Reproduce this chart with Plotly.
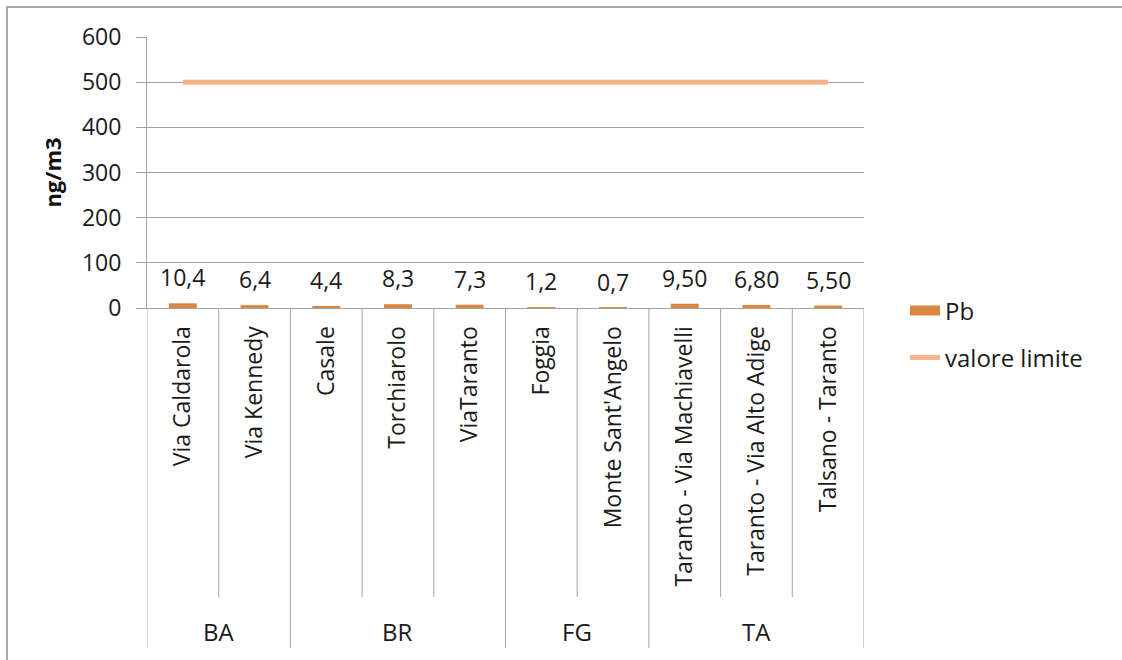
import plotly.graph_objects as go

# Province groups and monitoring stations
groups = ["BA", "BR", "FG", "TA"]
group_sizes = [2, 3, 2, 3]
stations = [
    "Via Caldarola", "Via Kennedy",
    "Casale", "Torchiarolo", "ViaTaranto",
    "Foggia", "Monte Sant'Angelo",
    "Taranto - Via Machiavelli", "Taranto - Via Alto Adige", "Talsano - Taranto",
]
# Lead (Pb) concentration, ng/m3, and decimals shown in each label
pb = [10.4, 6.4, 4.4, 8.3, 7.3, 1.2, 0.7, 9.5, 6.8, 5.5]
pb_decimals = [1, 1, 1, 1, 1, 1, 1, 2, 2, 2]
limit_value = 500
y_ticks = [0, 100, 200, 300, 400, 500, 600]

W, H = 1122, 660
L, R, T, B = 147, 258, 37, 352
plot_h = H - T - B
plot_w = W - L - R

FONT = "Open Sans"
TXT = "#1A1A1A"
GRID = "#A3A3A3"
BAR = "#DA8640"
LINE = "#F6B38C"


def py(px):
    """Figure pixel row -> paper y."""
    return (H - B - px) / plot_h


def px_x(px):
    """Figure pixel column -> paper x."""
    return (px - L) / plot_w


fig = go.Figure()

fig.add_trace(go.Bar(
    x=stations, y=pb, marker=dict(color=BAR, line=dict(width=0)),
    width=0.39, name="Pb", showlegend=False, legendgroup="pb",
))
# legend entry drawn as a wide swatch for the bar series
fig.add_trace(go.Scatter(
    x=[None], y=[None], mode="lines", name="Pb", legendgroup="pb",
    line=dict(color=BAR, width=12), legend="legend",
))
fig.add_trace(go.Scatter(
    x=stations, y=[limit_value] * len(stations), mode="lines",
    name="valore limite", line=dict(color=LINE, width=5), legend="legend2",
))

# value labels above each bar
for s, v, d in zip(stations, pb, pb_decimals):
    fig.add_annotation(
        x=s, y=v, text=f"{v:.{d}f}".replace(".", ","), showarrow=False,
        yshift=26, font=dict(family=FONT, size=23, color=TXT),
    )

shapes = []
# separators between stations (short) and between provinces (long)
bounds = []
idx = 0
for g in group_sizes:
    bounds.append(idx)
    idx += g
bounds.append(idx)
for i in range(len(stations) + 1):
    long_line = i in bounds
    shapes.append(dict(
        type="line", xref="x", yref="paper",
        x0=i - 0.5, x1=i - 0.5, y0=0, y1=py(648 if long_line else 597),
        line=dict(color=GRID, width=1),
    ))

# province names centred under their stations
for gi, g in enumerate(groups):
    centre = (bounds[gi] + bounds[gi + 1] - 1) / 2
    fig.add_annotation(
        x=centre, xref="x", y=py(631), yref="paper", text=g, showarrow=False,
        font=dict(family=FONT, size=24, color=TXT), yanchor="middle",
    )

# chart frame
shapes.append(dict(
    type="rect", xref="paper", yref="paper",
    x0=px_x(7), x1=px_x(W + 20), y0=py(7), y1=py(H + 20),
    line=dict(color="#8C8C8C", width=1.5), layer="below",
))

fig.update_layout(
    width=W, height=H,
    margin=dict(l=L, r=R, t=T, b=B),
    paper_bgcolor="white", plot_bgcolor="white",
    font=dict(family=FONT, size=23, color=TXT),
    bargap=0.6,
    shapes=shapes,
    xaxis=dict(
        type="category", range=[-0.5, len(stations) - 0.5],
        tickangle=-90, showgrid=False, ticks="",
        showline=True, linecolor=GRID, linewidth=1,
        tickfont=dict(family=FONT, size=23, color=TXT),
        ticklabelstandoff=8,
    ),
    yaxis=dict(
        range=[0, 600], tickvals=y_ticks, showgrid=True, gridcolor=GRID,
        gridwidth=1, ticks="outside", ticklen=10, tickcolor=GRID,
        showline=True, linecolor=GRID, linewidth=1, zeroline=False,
        tickfont=dict(family=FONT, size=23, color=TXT),
        ticklabelstandoff=10,
        title=dict(text="<b>ng/m3</b>", font=dict(family=FONT, size=22, color="#111"), standoff=14),
    ),
    legend=dict(
        x=px_x(905), y=py(311), xanchor="left", yanchor="middle",
        font=dict(family=FONT, size=24, color=TXT), bgcolor="rgba(0,0,0,0)",
    ),
    legend2=dict(
        x=px_x(905), y=py(358), xanchor="left", yanchor="middle",
        font=dict(family=FONT, size=24, color=TXT), bgcolor="rgba(0,0,0,0)",
    ),
)

fig.write_html("out.html")
